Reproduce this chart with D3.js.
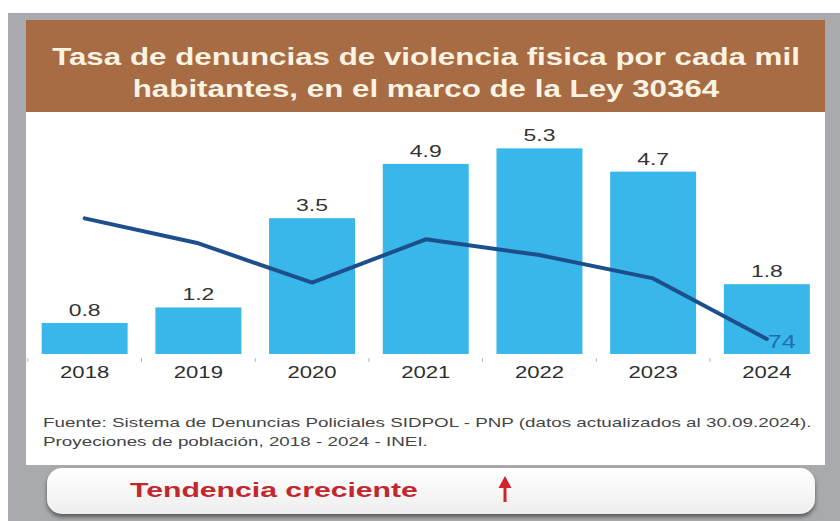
<!DOCTYPE html>
<html>
<head>
<meta charset="utf-8">
<script src="https://cdn.jsdelivr.net/npm/d3@7"></script>
<style>
  html, body { margin: 0; padding: 0; background: #ffffff; }
  svg { display: block; font-family: "Liberation Sans", Arial, sans-serif; }
</style>
</head>
<body>
<svg id="chart" width="840" height="521"></svg>
<script>
// ---- data ----
const years = ["2018", "2019", "2020", "2021", "2022", "2023", "2024"];
const rateValues = [0.8, 1.2, 3.5, 4.9, 5.3, 4.7, 1.8];
const rateLabels = ["0.8", "1.2", "3.5", "4.9", "5.3", "4.7", "1.8"];
const lineValues = [669, 546, 352, 566, 488, 373, 74];
const lineEndLabel = "74";
const titleLines = ["Tasa de denuncias de violencia fisica por cada mil",
                    "habitantes, en el marco de la Ley 30364"];
const sourceLines = ["Fuente: Sistema de Denuncias Policiales SIDPOL - PNP (datos actualizados al 30.09.2024).",
                     "Proyeciones de población, 2018 - 2024 - INEI."];
const trendLabel = "Tendencia creciente";

// ---- layout ----
const svg = d3.select("#chart");
const baseY = 354;

// frame
svg.append("rect").attr("x", 8).attr("y", 13).attr("width", 832).attr("height", 508).attr("fill", "#a8aaad");
// header
svg.append("rect").attr("x", 26).attr("y", 20).attr("width", 799).attr("height", 92).attr("fill", "#a76c43");
// white panel
svg.append("rect").attr("x", 26).attr("y", 112).attr("width", 799).attr("height", 353).attr("fill", "#ffffff");

// helper: horizontally stretched text
function stretchText(g, str, x, y, k, opts) {
  const t = g.append("text")
    .attr("transform", `translate(${x},${y}) scale(${k},1)`)
    .attr("text-anchor", opts.anchor || "middle")
    .attr("font-size", opts.size)
    .attr("font-weight", opts.weight || "normal")
    .attr("fill", opts.fill)
    .text(str);
  return t;
}

// title
const titleG = svg.append("g");
const t1 = stretchText(titleG, titleLines[0], 426, 65, 1, {size: 23, weight: "bold", fill: "#fdf3e3"});
const natural = t1.node().getComputedTextLength();
const kTitle = 748 / natural;
t1.attr("transform", `translate(426,65) scale(${kTitle},1)`);
stretchText(titleG, titleLines[1], 426, 97, kTitle, {size: 23, weight: "bold", fill: "#fdf3e3"});

// scales
const x = d3.scaleBand().domain(years).range([27.8, 823.7]).paddingInner(0.244).paddingOuter(0.122);
const y = d3.scaleLinear().domain([0, 6]).range([baseY, baseY - 6 * 38.8]);
const y2 = d3.scaleLinear().domain([0, 1000]).range([baseY, baseY - 202.7]);

// bars
svg.append("g").selectAll("rect").data(rateValues).join("rect")
  .attr("x", (d, i) => x(years[i]))
  .attr("y", d => y(d))
  .attr("width", x.bandwidth())
  .attr("height", d => baseY - y(d))
  .attr("fill", "#39b7ea");

// ticks between categories
const step = x.step();
const bounds = years.map(d => x(d) - step * x.paddingInner() / 2);
svg.append("g").selectAll("line").data(bounds).join("line")
  .attr("x1", d => d).attr("x2", d => d)
  .attr("y1", baseY + 4).attr("y2", baseY + 8)
  .attr("stroke", "#b5b5b5").attr("stroke-width", 1);

// value labels
const valG = svg.append("g");
rateValues.forEach((v, i) => {
  stretchText(valG, rateLabels[i], x(years[i]) + x.bandwidth() / 2, y(v) - 7, 1.35, {size: 17, fill: "#333333"});
});

// year labels
const yrG = svg.append("g");
years.forEach(d => {
  stretchText(yrG, d, x(d) + x.bandwidth() / 2, 378, 1.3, {size: 17, fill: "#2e2e2e"});
});

// line
const line = d3.line()
  .x((d, i) => x(years[i]) + x.bandwidth() / 2)
  .y(d => y2(d));
svg.append("path").datum(lineValues)
  .attr("d", line)
  .attr("fill", "none")
  .attr("stroke", "#1c4f8c")
  .attr("stroke-width", 4)
  .attr("stroke-linejoin", "round")
  .attr("stroke-linecap", "round");

// end label
const last = lineValues.length - 1;
stretchText(svg.append("g"), lineEndLabel, x(years[last]) + x.bandwidth() / 2 + 1, y2(lineValues[last]) + 9, 1.4,
  {size: 18, fill: "#1f6db3", anchor: "start"});

// source
const srcG = svg.append("g");
const s1 = stretchText(srcG, sourceLines[0], 43, 427, 1, {size: 12.5, fill: "#444444", anchor: "start"});
const kSrc = 769 / s1.node().getComputedTextLength();
s1.attr("transform", `translate(43,427) scale(${kSrc},1)`);
stretchText(srcG, sourceLines[1], 43, 446, kSrc, {size: 12.5, fill: "#444444", anchor: "start"});

// button
const defs = svg.append("defs");
const grad = defs.append("linearGradient").attr("id", "btnGrad").attr("x1", 0).attr("y1", 0).attr("x2", 0).attr("y2", 1);
grad.append("stop").attr("offset", "0%").attr("stop-color", "#ffffff");
grad.append("stop").attr("offset", "100%").attr("stop-color", "#eeeeee");
const filt = defs.append("filter").attr("id", "shadow").attr("x", "-5%").attr("y", "-20%").attr("width", "110%").attr("height", "160%");
filt.append("feDropShadow").attr("dx", 0).attr("dy", 3).attr("stdDeviation", 2).attr("flood-color", "#444").attr("flood-opacity", 0.8);

svg.append("rect").attr("x", 47).attr("y", 468).attr("width", 768).attr("height", 46).attr("rx", 15)
  .attr("fill", "url(#btnGrad)").attr("filter", "url(#shadow)");

const bt = stretchText(svg.append("g"), trendLabel, 130, 497, 1, {size: 20, weight: "bold", fill: "#c1272d", anchor: "start"});
const kBtn = 288 / bt.node().getComputedTextLength();
bt.attr("transform", `translate(130,497) scale(${kBtn},1)`);

// arrow
svg.append("path")
  .attr("d", "M505,502 L505,484")
  .attr("stroke", "#d0242b").attr("stroke-width", 3).attr("fill", "none");
svg.append("path")
  .attr("d", "M498.5,488 L505,476 L511.5,488 Z")
  .attr("fill", "#d0242b");
</script>
</body>
</html>
